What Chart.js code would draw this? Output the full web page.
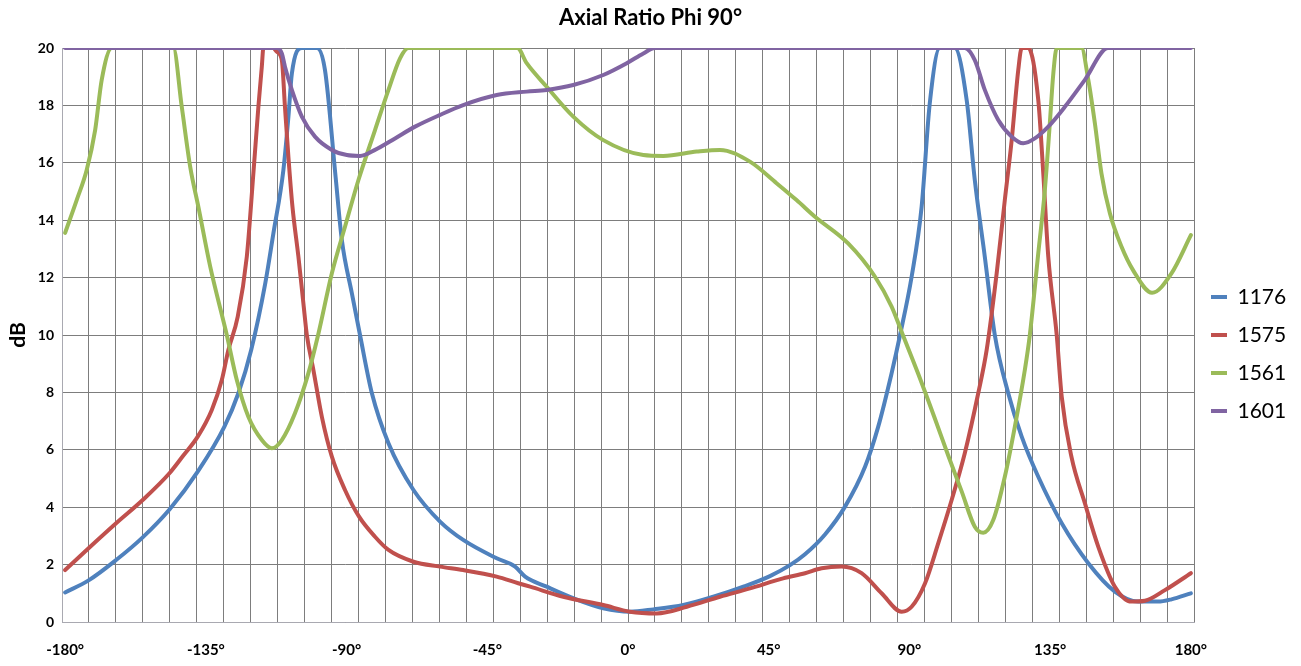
<!DOCTYPE html>
<html>
<head>
<meta charset="utf-8">
<title>Axial Ratio Phi 90°</title>
<script src="https://cdn.jsdelivr.net/npm/chart.js@4.4.1/dist/chart.umd.min.js"></script>
<style>
  html, body { margin: 0; padding: 0; background: #fff; }
</style>
</head>
<body>
<canvas id="chart" width="1301" height="666"></canvas>
<script>
// Axial ratio (dB) vs phi (deg)
const seriesNames = ['1176', '1575', '1561', '1601'];
const seriesColors = ['#4F81BD', '#C0504D', '#9BBB59', '#8064A2'];
const phiLabels = [-180, -135, -90, -45, 0, 45, 90, 135, 180];

const phi1176 = [-180, -172.5, -163.7, -155.2, -146.5, -137.6, -129.1, -124.6, -120.5, -116, -113.4, -110.2, -108.6, -107.5, -104.3, -99.5, -96.9, -93.5, -91.5, -88.3, -85.7, -81.9, -76.6, -68.6, -60.1, -52.7, -42, -36.1, -32.9, -26, -17.5, -7.9, 0.6, 8.1, 17.7, 27.3, 36.9, 45.4, 51.8, 56.6, 63, 69.4, 75.8, 80, 84.3, 87, 90.7, 93.9, 96.5, 99.7, 104.5, 108.3, 110.9, 114.1, 117.3, 121.6, 125.9, 131.2, 138.7, 147.2, 155.7, 163.1, 169.5, 173.8, 180];
const ar1176 = [1.03, 1.45, 2.16, 2.95, 3.94, 5.24, 6.8, 7.97, 9.48, 11.8, 13.54, 15.75, 17.6, 19.1, 20, 20, 19.23, 15.5, 13.3, 11.45, 10.0, 7.97, 6.23, 4.6, 3.5, 2.86, 2.22, 1.93, 1.58, 1.23, 0.83, 0.48, 0.36, 0.44, 0.59, 0.88, 1.23, 1.6, 1.98, 2.36, 3.05, 4.02, 5.41, 6.8, 8.67, 10, 12.03, 14.47, 18.07, 20, 20, 18.19, 15.4, 12.73, 10, 7.97, 6.46, 5.06, 3.44, 2.05, 1.06, 0.71, 0.71, 0.79, 1.0];

const phi1575 = [-180, -172.5, -163.7, -155.2, -146.5, -142.2, -137.6, -133.1, -129.9, -127.8, -124.8, -121.9, -119.8, -118.2, -117.1, -116.6, -113.5, -112.3, -110.7, -109.7, -108.6, -107.3, -105.4, -103.8, -102.7, -100.6, -97.9, -94.7, -90.5, -86, -80.9, -76.6, -68.6, -60.1, -52.7, -42, -35.1, -31.3, -20.7, -7.9, 0.6, 9.2, 18.8, 29.4, 39, 49.6, 56.6, 61.9, 68.3, 74.7, 81.1, 87.5, 90.7, 95, 99.2, 103.5, 107.7, 112, 114.7, 117.9, 120.5, 122.7, 124.8, 125.9, 128, 131.2, 132.8, 134.4, 137.1, 138.7, 141.8, 146.1, 150.4, 155.7, 161, 165.3, 171.7, 180];
const ar1575 = [1.81, 2.57, 3.44, 4.25, 5.2, 5.8, 6.46, 7.39, 8.43, 9.48, 10.64, 12.73, 15.63, 17.95, 19.35, 20, 20, 19.87, 19.58, 17.95, 16.21, 14.47, 12.73, 11.1, 10.0, 8.78, 7.15, 5.76, 4.6, 3.67, 2.97, 2.51, 2.1, 1.93, 1.81, 1.58, 1.35, 1.23, 0.88, 0.59, 0.36, 0.30, 0.53, 0.88, 1.17, 1.52, 1.70, 1.87, 1.93, 1.70, 1.0, 0.36, 0.53, 1.35, 2.74, 4.25, 5.88, 7.97, 9.48, 12.15, 14.7, 16.79, 19.23, 20, 20, 18.19, 15.63, 12.73, 10, 7.85, 5.76, 4.14, 2.62, 1.23, 0.71, 0.74, 1.11, 1.70];

const phi1561 = [-180, -176.3, -173.1, -170.4, -168.3, -165.1, -145.4, -142.7, -140, -137.4, -133.6, -128.3, -125.1, -121.4, -117.1, -113.9, -110.7, -106.5, -102.2, -99.1, -94.7, -90.5, -86.2, -80.9, -76.6, -72.9, -70.2, -35.4, -32.4, -26, -17.5, -7.9, 4.9, 11.3, 22, 29.4, 39, 47.5, 53.9, 59.8, 70.4, 79, 84.3, 87.9, 92.8, 98.1, 102.4, 106.7, 110.9, 113.6, 116.8, 120.5, 123.7, 126.9, 128.5, 131.2, 133.3, 134.9, 136, 137.1, 145, 147.2, 149.3, 151.4, 154.1, 157.8, 161.5, 167.6, 173.8, 180];
const ar1561 = [13.56, 14.7, 15.75, 17.14, 18.89, 20, 20, 17.95, 15.86, 14.47, 12.38, 10, 8.43, 7.15, 6.34, 6.05, 6.34, 7.27, 8.67, 10, 12.15, 13.77, 15.4, 17.14, 18.54, 19.64, 20, 20, 19.47, 18.65, 17.61, 16.79, 16.27, 16.24, 16.39, 16.45, 16.04, 15.29, 14.7, 14.12, 13.19, 12.03, 10.99, 10, 8.65, 7.1, 5.8, 4.55, 3.32, 3.11, 3.55, 5.06, 6.8, 8.78, 10, 12.85, 15.05, 17.38, 19.1, 20, 20, 18.89, 17.38, 15.63, 14.24, 13.08, 12.26, 11.47, 12.15, 13.48];

const phi1601 = [-180, -112.3, -110.7, -109.7, -107.5, -104.3, -100.1, -94.7, -89.9, -85.7, -80.9, -74.5, -68.1, -60.1, -52.7, -42, -32.4, -26, -17.5, -7.9, -0.4, 4.9, 8.6, 107.7, 110.9, 114.1, 118.4, 122.7, 126.4, 130.1, 134.4, 139.7, 146.1, 153.5, 180];
const ar1601 = [20, 20, 19.81, 19.35, 18.54, 17.61, 16.91, 16.45, 16.27, 16.24, 16.45, 16.85, 17.26, 17.67, 18.01, 18.36, 18.48, 18.54, 18.71, 19.06, 19.47, 19.81, 20, 20, 19.58, 18.54, 17.49, 16.91, 16.68, 16.85, 17.26, 17.95, 18.89, 20, 20];

const phiSeries = [phi1176, phi1575, phi1561, phi1601];
const arSeries = [ar1176, ar1575, ar1561, ar1601];

// x axis runs a little past +-180; vertical gridlines split it in 42 parts
const xMin = -181, xMax = 181, xGridParts = 42;
const xGridStep = (xMax - xMin) / xGridParts;
const gridColor = '#7d7d7d';
const fontFamily = 'Lato, "Open Sans", sans-serif';

function isGridValue(v) {
  const k = (v - xMin) / xGridStep;
  return Math.abs(k - Math.round(k)) < 1e-6;
}

// keep the right-hand legend at a fixed width
const legendWidth = {
  id: 'legendWidth',
  beforeInit(chart) {
    const fit = chart.legend.fit;
    chart.legend.fit = function () {
      fit.call(this);
      this.width = 107;
    };
  }
};

const datasets = seriesNames.map((name, i) => ({
  label: name,
  data: phiSeries[i].map((x, j) => ({ x, y: arSeries[i][j] })),
  borderColor: seriesColors[i],
  backgroundColor: seriesColors[i],
  borderWidth: 4,
  pointRadius: 0,
  cubicInterpolationMode: 'monotone',
  borderCapStyle: 'round',
  borderJoinStyle: 'round',
  order: seriesNames.length - i   // last series on top, as in the original
}));

new Chart(document.getElementById('chart'), {
  type: 'line',
  data: { datasets },
  plugins: [legendWidth],
  options: {
    responsive: false,
    animation: false,
    events: [],
    layout: { padding: 0 },
    scales: {
      x: {
        type: 'linear',
        min: xMin,
        max: xMax,
        afterBuildTicks: scale => {
          const vals = new Set(phiLabels);
          for (let k = 0; k <= xGridParts; k++) {
            vals.add(Math.round((xMin + k * xGridStep) * 1e6) / 1e6);
          }
          scale.ticks = [...vals].sort((a, b) => a - b).map(value => ({ value }));
        },
        afterFit: scale => { scale.height = 44; },
        grid: {
          color: ctx => (ctx.tick && isGridValue(ctx.tick.value)) ? gridColor : 'rgba(0,0,0,0)',
          drawTicks: false
        },
        border: { color: '#a9a9b1', width: 1 },
        ticks: {
          autoSkip: false,
          maxRotation: 0,
          padding: 19,
          color: '#000',
          font: { family: fontFamily, size: 15, weight: 'bold' },
          callback: value => phiLabels.includes(value) ? value + '°' : ''
        }
      },
      y: {
        min: 0,
        max: 20,
        afterFit: scale => { scale.width = 62; },
        grid: { color: gridColor, drawTicks: false },
        border: { color: '#a9a9b1', width: 1 },
        ticks: {
          stepSize: 2,
          padding: 8,
          color: '#000',
          font: { family: fontFamily, size: 14, weight: 'bold' }
        },
        title: {
          display: true,
          text: 'dB',
          color: '#000',
          padding: { top: 6, bottom: 0 },
          font: { family: fontFamily, size: 21, weight: 'bold' }
        }
      }
    },
    plugins: {
      title: {
        display: true,
        text: 'Axial Ratio Phi 90°',
        color: '#000',
        padding: { top: 5, bottom: 16.6 },
        font: { family: fontFamily, size: 22, weight: 'bold' }
      },
      legend: {
        position: 'right',
        title: { display: true, text: '', font: { size: 10 }, padding: 15 },
        labels: {
          boxWidth: 16,
          boxHeight: 4,
          padding: 17,
          color: '#000',
          font: { family: fontFamily, size: 21 },
          sort: (a, b) => a.datasetIndex - b.datasetIndex,
          generateLabels: chart => Chart.defaults.plugins.legend.labels.generateLabels(chart)
            .map(item => ({ ...item, lineWidth: 0 }))
        }
      },
      tooltip: { enabled: false }
    }
  }
});
</script>
</body>
</html>
